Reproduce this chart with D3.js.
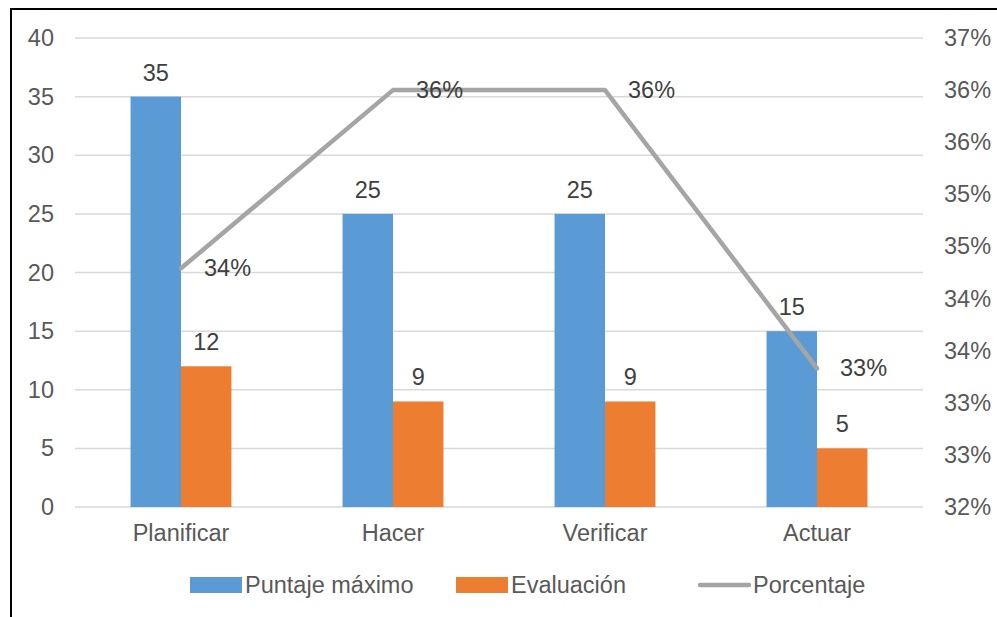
<!DOCTYPE html>
<html>
<head>
<meta charset="utf-8">
<script src="https://cdn.jsdelivr.net/npm/d3@7"></script>
<style>
  html, body { margin: 0; padding: 0; background: #fff; }
  svg { display: block; font-family: "Liberation Sans", Arial, sans-serif; }
</style>
</head>
<body>
<svg id="chart" width="997" height="617"></svg>
<script>
// Chart data
const categories = ["Planificar", "Hacer", "Verificar", "Actuar"];
const puntajeMaximo = [35, 25, 25, 15];
const evaluacion = [12, 9, 9, 5];
const porcentaje = [0.3429, 0.36, 0.36, 0.3333];
const porcentajeLabels = ["34%", "36%", "36%", "33%"];
const leftTicks = [0, 5, 10, 15, 20, 25, 30, 35, 40];
const rightTicks = [0.32, 0.325, 0.33, 0.335, 0.34, 0.345, 0.35, 0.355, 0.36, 0.365];
const rightTickLabels = ["32%", "33%", "33%", "34%", "34%", "35%", "35%", "36%", "36%", "37%"];
const legendNames = ["Puntaje máximo", "Evaluación", "Porcentaje"];

const colors = { blue: "#5b9bd5", orange: "#ed7d31", gray: "#a5a5a5", grid: "#d9d9d9", axis: "#595959", label: "#404040" };
const fontSize = 23.5;

const svg = d3.select("#chart");

// Plot area
const plot = { left: 75, right: 923, top: 38, bottom: 507 };

const x = d3.scaleBand().domain(categories).range([plot.left, plot.right]).padding(0);
const yL = d3.scaleLinear().domain([0, 40]).range([plot.bottom, plot.top]);
const yR = d3.scaleLinear().domain([0.32, 0.365]).range([plot.bottom, plot.top]);

const barW = x.bandwidth() * 0.238;

// Outer frame (left and top edges visible)
svg.append("path")
  .attr("d", `M11,617 L11,9 L997,9`)
  .attr("fill", "none")
  .attr("stroke", "#000")
  .attr("stroke-width", 2);

// Gridlines
svg.append("g")
  .selectAll("line")
  .data(leftTicks)
  .join("line")
  .attr("x1", plot.left).attr("x2", plot.right)
  .attr("y1", d => yL(d)).attr("y2", d => yL(d))
  .attr("stroke", colors.grid)
  .attr("stroke-width", 1.5);

function styleText(g) {
  g.selectAll("text")
    .attr("fill", colors.axis)
    .style("font-size", fontSize + "px")
    .style("font-family", "Liberation Sans, Arial, sans-serif");
}

// Left axis
const leftAxis = d3.axisLeft(yL).tickValues(leftTicks).tickSize(0).tickPadding(0);
const gL = svg.append("g").attr("transform", `translate(${plot.left - 21},0)`).call(leftAxis);
gL.select(".domain").remove();
styleText(gL);

// Right axis
const rightAxis = d3.axisRight(yR).tickValues(rightTicks).tickFormat((d, i) => rightTickLabels[i]).tickSize(0).tickPadding(0);
const gR = svg.append("g").attr("transform", `translate(${plot.right + 21},0)`).call(rightAxis);
gR.select(".domain").remove();
styleText(gR);

// Category axis
const bottomAxis = d3.axisBottom(x).tickSize(0).tickPadding(0);
const gB = svg.append("g").attr("transform", `translate(0,${plot.bottom + 17})`).call(bottomAxis);
gB.select(".domain").remove();
styleText(gB);

// Bars
const cx = c => x(c) + x.bandwidth() / 2;
svg.append("g").selectAll("rect")
  .data(categories)
  .join("rect")
  .attr("x", c => cx(c) - barW)
  .attr("width", barW)
  .attr("y", (c, i) => yL(puntajeMaximo[i]))
  .attr("height", (c, i) => yL(0) - yL(puntajeMaximo[i]))
  .attr("fill", colors.blue);

svg.append("g").selectAll("rect")
  .data(categories)
  .join("rect")
  .attr("x", c => cx(c))
  .attr("width", barW)
  .attr("y", (c, i) => yL(evaluacion[i]))
  .attr("height", (c, i) => yL(0) - yL(evaluacion[i]))
  .attr("fill", colors.orange);

// Bar value labels
svg.append("g").selectAll("text")
  .data(categories)
  .join("text")
  .attr("x", c => cx(c) - barW / 2)
  .attr("y", (c, i) => yL(puntajeMaximo[i]) - 16)
  .attr("text-anchor", "middle")
  .attr("fill", colors.label)
  .style("font-size", fontSize + "px")
  .text((c, i) => puntajeMaximo[i]);

svg.append("g").selectAll("text")
  .data(categories)
  .join("text")
  .attr("x", c => cx(c) + barW / 2)
  .attr("y", (c, i) => yL(evaluacion[i]) - 16)
  .attr("text-anchor", "middle")
  .attr("fill", colors.label)
  .style("font-size", fontSize + "px")
  .text((c, i) => evaluacion[i]);

// Percentage line
const line = d3.line()
  .x(c => cx(c))
  .y((c, i) => yR(porcentaje[i]));

svg.append("path")
  .datum(categories)
  .attr("d", line)
  .attr("fill", "none")
  .attr("stroke", colors.gray)
  .attr("stroke-width", 4.5)
  .attr("stroke-linejoin", "round")
  .attr("stroke-linecap", "round");

svg.append("g").selectAll("text")
  .data(categories)
  .join("text")
  .attr("x", c => cx(c) + 23)
  .attr("y", (c, i) => yR(porcentaje[i]) + 8)
  .attr("fill", colors.label)
  .style("font-size", fontSize + "px")
  .text((c, i) => porcentajeLabels[i]);

// Legend
const legendY = 585;
const legendItems = [
  { name: legendNames[0], x: 190, type: "rect", color: colors.blue },
  { name: legendNames[1], x: 456, type: "rect", color: colors.orange },
  { name: legendNames[2], x: 698, type: "line", color: colors.gray }
];
const lg = svg.append("g");
legendItems.forEach(item => {
  if (item.type === "rect") {
    lg.append("rect")
      .attr("x", item.x).attr("y", legendY - 8)
      .attr("width", 52).attr("height", 16)
      .attr("fill", item.color);
  } else {
    lg.append("line")
      .attr("x1", item.x + 2).attr("x2", item.x + 51)
      .attr("y1", legendY).attr("y2", legendY)
      .attr("stroke", item.color)
      .attr("stroke-width", 4.5)
      .attr("stroke-linecap", "round");
  }
  lg.append("text")
    .attr("x", item.x + 55)
    .attr("y", legendY + 8)
    .attr("fill", colors.axis)
    .style("font-size", fontSize + "px")
    .text(item.name);
});
</script>
</body>
</html>
